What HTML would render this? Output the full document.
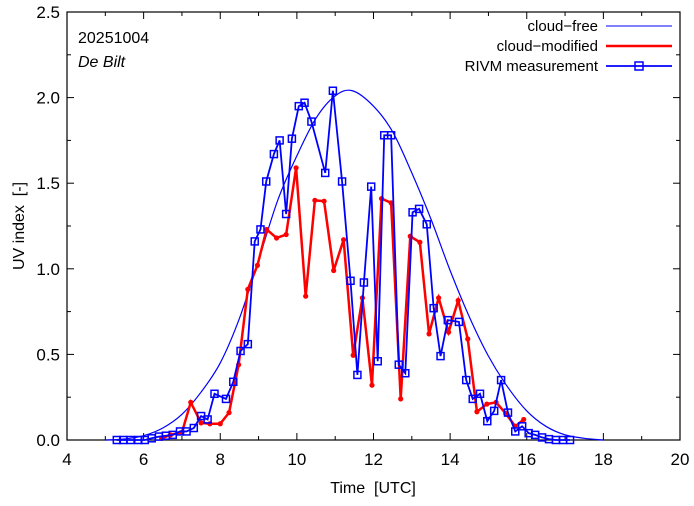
<!DOCTYPE html>
<html><head><meta charset="utf-8"><style>
body{margin:0;background:#fff}
svg text{font-family:"Liberation Sans",sans-serif;fill:#000;white-space:pre}
</style></head><body>
<svg id="c" width="694" height="501" xmlns="http://www.w3.org/2000/svg">
<g id="axes"></g>
<g id="plot"></g>
<text x="78" y="43" font-size="16">20251004</text>
<text x="78" y="67" font-size="16" font-style="italic">De Bilt</text>
<g font-size="15">
<text x="598" y="31" text-anchor="end">cloud−free</text>
<line x1="606" y1="26" x2="672" y2="26" stroke="#0000ff" stroke-width="1"/>
<text x="598" y="51" text-anchor="end">cloud−modified</text>
<line x1="606" y1="46" x2="672" y2="46" stroke="#ff0000" stroke-width="2.5"/>
<text x="598" y="71" text-anchor="end">RIVM measurement</text>
<line x1="606" y1="66" x2="672" y2="66" stroke="#0000ff" stroke-width="1.8"/>
<rect x="635" y="62" width="8" height="8" fill="none" stroke="#0000ff" stroke-width="1.5"/>
</g>
<text x="373" y="493" font-size="16" text-anchor="middle">Time&#160;&#160;[UTC]</text>
<text transform="translate(24,226) rotate(-90)" font-size="16" text-anchor="middle">UV index&#160;&#160;[-]</text>
</svg>
<script>
const clearT=[5,5.5,6,6.5,7,7.5,8,8.5,9,9.5,10,10.5,11,11.45,12,12.5,13,13.5,14,14.5,15,15.5,16,16.5,17,17.5,18];
const clearV=[0,0.006,0.025,0.07,0.15,0.28,0.45,0.71,1.05,1.4,1.66,1.88,2.01,2.04,1.95,1.8,1.56,1.29,0.99,0.72,0.49,0.31,0.17,0.08,0.03,0.01,0];
const modT=[6.47,6.7,7.0,7.23,7.5,7.73,8.0,8.23,8.48,8.72,8.97,9.21,9.47,9.72,9.98,10.23,10.47,10.71,10.96,11.22,11.47,11.71,11.96,12.21,12.46,12.71,12.96,13.21,13.45,13.70,13.96,14.21,14.46,14.70,14.96,15.20,15.45,15.70,15.92];
const modV=[0.01,0.03,0.045,0.22,0.1,0.095,0.095,0.16,0.44,0.88,1.02,1.23,1.18,1.20,1.59,0.84,1.40,1.395,0.99,1.17,0.495,0.83,0.32,1.41,1.385,0.24,1.19,1.155,0.62,0.83,0.63,0.815,0.59,0.165,0.21,0.22,0.155,0.08,0.12];
const measT=[5.30,5.47,5.66,5.86,6.03,6.21,6.40,6.58,6.76,6.95,7.12,7.31,7.50,7.67,7.85,8.15,8.34,8.53,8.72,8.9,9.05,9.2,9.4,9.55,9.72,9.87,10.05,10.2,10.38,10.74,10.94,11.18,11.40,11.58,11.75,11.94,12.11,12.28,12.46,12.66,12.83,13.02,13.19,13.39,13.57,13.75,13.94,14.23,14.42,14.59,14.78,14.97,15.15,15.33,15.51,15.70,15.88,16.05,16.22,16.4,16.58,16.76,16.95,17.13];
const measV=[0,0,0,0,0,0.01,0.02,0.025,0.03,0.05,0.05,0.07,0.14,0.12,0.27,0.24,0.34,0.52,0.56,1.16,1.23,1.51,1.67,1.75,1.32,1.76,1.95,1.97,1.86,1.56,2.04,1.51,0.93,0.38,0.92,1.48,0.46,1.78,1.78,0.44,0.39,1.33,1.35,1.26,0.77,0.49,0.70,0.69,0.35,0.24,0.27,0.11,0.17,0.35,0.16,0.05,0.08,0.04,0.03,0.015,0.005,0,0,0];
const xTicks=[4,6,8,10,12,14,16,18,20];
const yTicks=[0,0.5,1.0,1.5,2.0,2.5];
const yTickLabels=["0.0","0.5","1.0","1.5","2.0","2.5"];
const L=67,R=680,T=12,B=440;
const X=t=>L+(t-4)/16*(R-L), Y=v=>B-v/2.5*(B-T);
const NS="http://www.w3.org/2000/svg";
const ax=document.getElementById('axes'), pl=document.getElementById('plot');
function mk(tag,at,p){const e=document.createElementNS(NS,tag);for(const k in at)e.setAttribute(k,at[k]);(p||pl).appendChild(e);return e;}
const fr=mk('rect',{x:L,y:T,width:R-L,height:B-T,fill:'none',stroke:'#000','stroke-width':1.2},ax);


for(let i=0;i<xTicks.length;i++){const x=X(xTicks[i]);
 mk('line',{x1:x,y1:B,x2:x,y2:B-7,stroke:'#000'},ax);mk('line',{x1:x,y1:T,x2:x,y2:T+7,stroke:'#000'},ax);
 if(i<xTicks.length-1){const xm=X(xTicks[i]+1);mk('line',{x1:xm,y1:B,x2:xm,y2:B-4,stroke:'#000'},ax);mk('line',{x1:xm,y1:T,x2:xm,y2:T+4,stroke:'#000'},ax);}
 const t=mk('text',{x:x,y:B+25,'font-size':17,'text-anchor':'middle'},ax);t.textContent=xTicks[i];
 
 }
for(let i=0;i<yTicks.length;i++){const y=Y(yTicks[i]);
 mk('line',{x1:L,y1:y,x2:L+7,y2:y,stroke:'#000'},ax);mk('line',{x1:R,y1:y,x2:R-7,y2:y,stroke:'#000'},ax);
 if(i<yTicks.length-1){const ym=Y(yTicks[i]+0.25);mk('line',{x1:L,y1:ym,x2:L+4,y2:ym,stroke:'#000'},ax);mk('line',{x1:R,y1:ym,x2:R-4,y2:ym,stroke:'#000'},ax);}
 const t=mk('text',{x:L-7,y:y+6,'font-size':17,'text-anchor':'end'},ax);t.textContent=yTickLabels[i];
 
 }
let P=clearT.map((t,i)=>[X(t),Y(clearV[i])]);
let d='M'+P[0][0]+','+P[0][1];
for(let i=0;i<P.length-1;i++){const p0=P[Math.max(0,i-1)],p1=P[i],p2=P[i+1],p3=P[Math.min(P.length-1,i+2)];
 d+=' C'+(p1[0]+(p2[0]-p0[0])/6)+','+(p1[1]+(p2[1]-p0[1])/6)+' '+(p2[0]-(p3[0]-p1[0])/6)+','+(p2[1]-(p3[1]-p1[1])/6)+' '+p2[0]+','+p2[1];}
const cf=mk('path',{d:d,fill:'none',stroke:'#0000ff','stroke-width':1.2});


const cm=mk('polyline',{points:modT.map((t,i)=>X(t)+','+Y(modV[i])).join(' '),fill:'none',stroke:'#ff0000','stroke-width':2.5});


modT.forEach((t,i)=>{const c=mk('circle',{cx:X(t),cy:Y(modV[i]),r:2.6,fill:'#ff0000'});
 
 });
const ml=mk('polyline',{points:measT.map((t,i)=>X(t)+','+Y(measV[i])).join(' '),fill:'none',stroke:'#0000ff','stroke-width':1.8});


measT.forEach((t,i)=>{const r=mk('rect',{x:X(t)-3.5,y:Y(measV[i])-3.5,width:7,height:7,fill:'none',stroke:'#0000ff','stroke-width':1.5});
 
 });
</script>
</body></html>
